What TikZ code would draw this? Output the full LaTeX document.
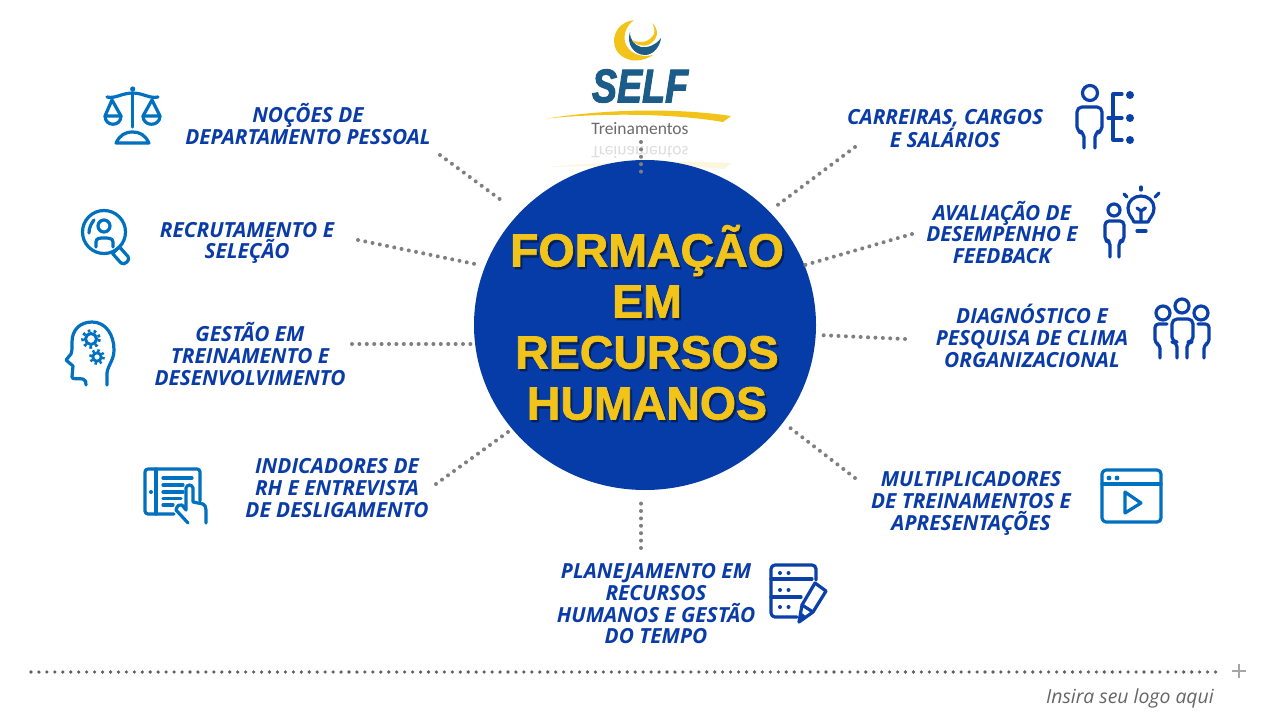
\documentclass[tikz,border=0pt]{standalone}
\usetikzlibrary{shapes.geometric}
\usepackage{fontspec}
\setmainfont{Open Sans}
\newfontfamily\titlefont[BoldFeatures={FakeBold=1.6}]{Liberation Sans}
\newfontfamily\selffont[BoldItalicFeatures={FakeBold=2.5}]{Liberation Sans}
\newfontfamily\logofont{Carlito}
\definecolor{labelblue}{HTML}{0A3CA8}
\definecolor{iconA}{HTML}{0070C0}
\definecolor{iconB}{HTML}{0A40A8}
\definecolor{discblue}{HTML}{063CA8}
\definecolor{gold}{HTML}{F2C318}
\definecolor{selfblue}{HTML}{1B5C88}
\definecolor{dotgray}{HTML}{7F7F7F}
\tikzset{
  lbl/.style={align=center,text=labelblue,inner sep=0pt,font=\fontsize{20.8}{21.7}\selectfont\bfseries\itshape},
  conn/.style={draw=dotgray,line width=4pt,line cap=round,dash pattern=on 0pt off 7.4pt},
  ttl/.style={align=center,inner sep=0pt,font=\titlefont\fontsize{46.5}{51}\selectfont\bfseries},
  ica/.style={draw=iconA,line width=3.2pt,line cap=round,line join=round},
  icb/.style={draw=iconB,line width=3.2pt,line cap=round,line join=round},
}
\begin{document}
\begin{tikzpicture}[x=1pt,y=-1pt]
\useasboundingbox (0,0) rectangle (1280,720);
\fill[white] (0,0) rectangle (1280,720);

% logo reflection
\node[inner sep=0pt,yscale=-1,text=black!13,font=\logofont\fontsize{17.5}{17.5}\selectfont] (logoref) at (640,152) {Treinamentos};
\fill[gold!15] (548,167) .. controls (610,161) and (680,161) .. (731,163) -- (724,169) .. controls (680,165) and (610,165) .. cycle;

% disc
\node[fill=discblue,ellipse,inner sep=0pt,minimum width=342pt,minimum height=330pt] (disc) at (645,325) {};

% logo
\fill[gold] (634,20) .. controls (620,22) and (614,32) .. (614,41) .. controls (614,54) and (626,61) .. (637,60.5) .. controls (643,60) and (649,58) .. (653,55) .. controls (640,58) and (628,53) .. (625,42) .. controls (623,34) and (627,25) .. (634,20) -- cycle;
\fill[selfblue] (630,32) .. controls (626,44) and (634,55) .. (645,55) .. controls (653,55) and (660,47) .. (661,38) .. controls (656,45) and (648,48) .. (641,47) .. controls (634,45) and (630,40) .. (630,32) -- cycle;
\fill[gold] (652,23) .. controls (660,30) and (658,40) .. (648,45) .. controls (640,47) and (635,44) .. (632,40) .. controls (640,44) and (650,42) .. (654,34) .. controls (655,30) and (654,26) .. (652,23) -- cycle;
\node[inner sep=0pt,text=selfblue,xscale=0.80,font=\selffont\fontsize{47}{47}\selectfont\bfseries\itshape] (self) at (640,86) {SELF};
\fill[gold] (547,118.5) .. controls (600,110) and (670,107) .. (731,116) -- (723,122) .. controls (670,113) and (600,113) .. (547,118.5) -- cycle;
\node[inner sep=0pt,text=black!58,font=\logofont\fontsize{17.5}{17.5}\selectfont] (treina) at (640,129) {Treinamentos};

% connectors
\coordinate (a1) at (440,155); \coordinate (b1) at (505,203);
\coordinate (a2) at (358,240); \coordinate (b2) at (480,265);
\coordinate (a3) at (352,344); \coordinate (b3) at (476,344);
\coordinate (a4) at (436,484); \coordinate (b4) at (508,432);
\coordinate (a5) at (641,548); \coordinate (b5) at (641,497);
\coordinate (a6) at (855,478); \coordinate (b6) at (789,427);
\coordinate (a7) at (905,339); \coordinate (b7) at (818,335);
\coordinate (a8) at (912,234); \coordinate (b8) at (805,265);
\coordinate (a9) at (855,147); \coordinate (b9) at (775,207);
\coordinate (a10) at (641,142); \coordinate (b10) at (641,175);
\foreach \i in {1,...,10} \draw[conn] (a\i) -- (b\i);

% title
\node[ttl,text=black!45!discblue] (ttlshadow) at (649,325) {FORMAÇÃO\\EM\\RECURSOS\\HUMANOS};
\node[ttl,text=gold] (ttl) at (647,322.5) {FORMAÇÃO\\EM\\RECURSOS\\HUMANOS};

% labels
\node[lbl] (l1) at (308,124) {NOÇÕES DE\\DEPARTAMENTO PESSOAL};
\node[lbl] (l2) at (247,243) {RECRUTAMENTO E\\SELEÇÃO};
\node[lbl] (l3) at (250,354) {GESTÃO EM\\TREINAMENTO E\\DESENVOLVIMENTO};
\node[lbl] (l4) at (337,488) {INDICADORES DE\\RH E ENTREVISTA\\DE DESLIGAMENTO};
\node[lbl] (l5) at (656,604) {PLANEJAMENTO EM\\RECURSOS\\HUMANOS E GESTÃO\\DO TEMPO};
\node[lbl] (l6) at (945,129) {CARREIRAS, CARGOS\\E SALÁRIOS};
\node[lbl] (l7) at (1002,232.5) {AVALIAÇÃO DE\\DESEMPENHO E\\FEEDBACK};
\node[lbl] (l8) at (1032,336) {DIAGNÓSTICO E\\PESQUISA DE CLIMA\\ORGANIZACIONAL};
\node[lbl] (l9) at (971,503.5) {MULTIPLICADORES\\DE TREINAMENTOS E\\APRESENTAÇÕES};

% scales icon
\fill[iconA] (132.7,89) circle (2.6);
\draw[ica] (107,97) .. controls (115,99) and (122,93) .. (132.7,93) .. controls (143,93) and (150,99) .. (158,97);
\draw[ica] (132.7,93) -- (132.7,127);
\draw[ica] (112,100) -- (105,116) -- (121,116) -- cycle;
\draw[ica] (105,116) .. controls (105,127) and (121,127) .. (121,116);
\draw[ica] (152,100) -- (143,116) -- (160,116) -- cycle;
\draw[ica] (143,116) .. controls (143,127) and (160,127) .. (160,116);
\draw[ica] (116,143) -- (149,143) .. controls (145,135) and (140,132) .. (132.7,132) .. controls (125,132) and (120,135) .. (116,143) -- cycle;

% magnifier icon
\draw[ica] (104,232) circle (21.5);
\draw[ica] (104,226) circle (6);
\draw[ica] (96,247) -- (96,242) .. controls (96,238) and (100,238) .. (104,238) .. controls (108,238) and (113,238) .. (113,242) -- (113,247);
\draw[ica] (89,233) .. controls (89,228) and (91,224) .. (94,220);
\draw[ica] (116,250) -- (112.5,253.5) -- (121,263) .. controls (124,266) and (131,260) .. (128,256.5) -- (119.5,247) -- cycle;

% head icon
\draw[ica] (107,385) -- (107,373) .. controls (108,365) and (114,360) .. (114,350) .. controls (114,335) and (106,322) .. (92,322) .. controls (80,322) and (72,330) .. (72,342) .. controls (72,350) and (72,352) .. (71,354) -- (66,360) -- (73,366) -- (72,377) .. controls (72,380) and (78,378) .. (83,379) .. controls (86,380) and (86,382) .. (86,385);
\draw[draw=iconA,line width=3pt] (91,339) circle (5.5);
\draw[draw=iconA,line width=2.8pt,dash pattern=on 2.8pt off 3.2pt] (91,339) circle (8.4);
\draw[draw=iconA,line width=2.8pt] (97,357) circle (4.2);
\draw[draw=iconA,line width=2.6pt,dash pattern=on 2.4pt off 2.8pt] (97,357) circle (6.6);

% tablet icon
\draw[ica,rounded corners=3pt] (174,514) -- (145,514) -- (145,469) -- (200,469) -- (200,501);
\draw[ica] (156,469) -- (156,514);
\fill[iconA] (151,492) circle (2);
\draw[ica] (163,478) -- (192,478);
\draw[ica] (163,485) -- (183,485);
\draw[ica] (163,492) -- (183,492);
\draw[ica] (163,498.5) -- (181,498.5);
\draw[ica] (163,505) -- (173,505);
\draw[ica] (188,523) -- (176,510) .. controls (177,505) and (180,504) .. (182,505) -- (186,510) -- (186,488) .. controls (187,484) and (192,484) .. (193,488) -- (193,502) -- (203,504) .. controls (205,505) and (206,507) .. (206,510) -- (206,523);

% checklist icon
\draw[icb,rounded corners=4pt] (816,580) -- (816,565) -- (771,565) -- (771,617) -- (797,617);
\draw[icb] (771,579) -- (812,579);
\draw[icb] (771,597) -- (801,597);
\foreach \yy in {573,590,607} {\fill[iconB] (780,\yy) circle (2); \fill[iconB] (788.5,\yy) circle (2);}
\draw[icb] (799,622) -- (802,605) -- (815,583) -- (826,591) -- (813,612) -- cycle;
\draw[icb] (802,605) -- (813,612);
\fill[iconB] (799,622) -- (800.5,612) -- (807,617) -- cycle;

% person + tree icon
\draw[icb] (1090,93) circle (7.5);
\draw[icb,rounded corners=5pt] (1084,148) -- (1084,132) -- (1077,132) -- (1077,107) -- (1102,107) -- (1102,132) -- (1095,132) -- (1095,148);
\draw[icb] (1122,94) -- (1113,94) -- (1113,140) -- (1122,140);
\draw[icb] (1108,118) -- (1122,118);
\foreach \yy in {95,118,140} \fill[iconB] (1130,\yy) circle (4);

% person + bulb icon
\draw[icb] (1114,210) circle (6);
\draw[icb,rounded corners=4pt] (1110,257) -- (1110,241) -- (1105,241) -- (1105,221) -- (1124,221) -- (1124,241) -- (1119,241) -- (1119,257);
\draw[icb] (1134,222) .. controls (1132,217) and (1128,215) .. (1128,208) .. controls (1128,201) and (1134,196) .. (1141,196) .. controls (1148,196) and (1154,201) .. (1154,208) .. controls (1154,215) and (1150,217) .. (1148,222) -- cycle;
\draw[icb] (1141,221) -- (1141,211) (1137,208) -- (1141,211) -- (1145.5,208);
\draw[icb] (1137,231) -- (1146,231);
\draw[icb] (1141,187) -- (1141,190);
\draw[icb] (1124,194) -- (1127,197);
\draw[icb] (1159,193) -- (1155,197);

% group icon
\draw[icb] (1182,306) circle (7);
\draw[icb] (1163,313) circle (7);
\draw[icb] (1201,313) circle (7);
\draw[icb,rounded corners=5pt] (1177,358) -- (1177,342) -- (1172,342) -- (1172,319) -- (1193,319) -- (1193,342) -- (1187,342) -- (1187,358);
\draw[icb,rounded corners=3.5pt] (1167,324) -- (1155,324) -- (1155,343) -- (1160,345) -- (1160,358);
\draw[icb,rounded corners=3.5pt] (1198,324) -- (1209,324) -- (1209,343) -- (1204,345) -- (1204,358);

% video icon
\draw[ica,rounded corners=4pt] (1102,470) rectangle (1161,522);
\draw[ica] (1102,484) -- (1161,484);
\fill[iconA] (1109,478) circle (2.4);
\fill[iconA] (1117,478) circle (2.4);
\draw[ica] (1125,492) -- (1125,513) -- (1141,503) -- cycle;

% footer
\coordinate (fa) at (31,672);
\coordinate (fb) at (1218,672);
\draw[draw=black!62,line width=3.6pt,line cap=round,dash pattern=on 0pt off 7.95pt] (fa) -- (fb);
\draw[draw=black!35,line width=1.8pt] (1232,671) -- (1246,671) (1239,664) -- (1239,678);
\node[anchor=east,inner sep=0pt,text=black!60,font=\fontsize{19.4}{19.4}\selectfont\itshape] (logohint) at (1214,698) {Insira seu logo aqui};
\end{tikzpicture}
\end{document}
